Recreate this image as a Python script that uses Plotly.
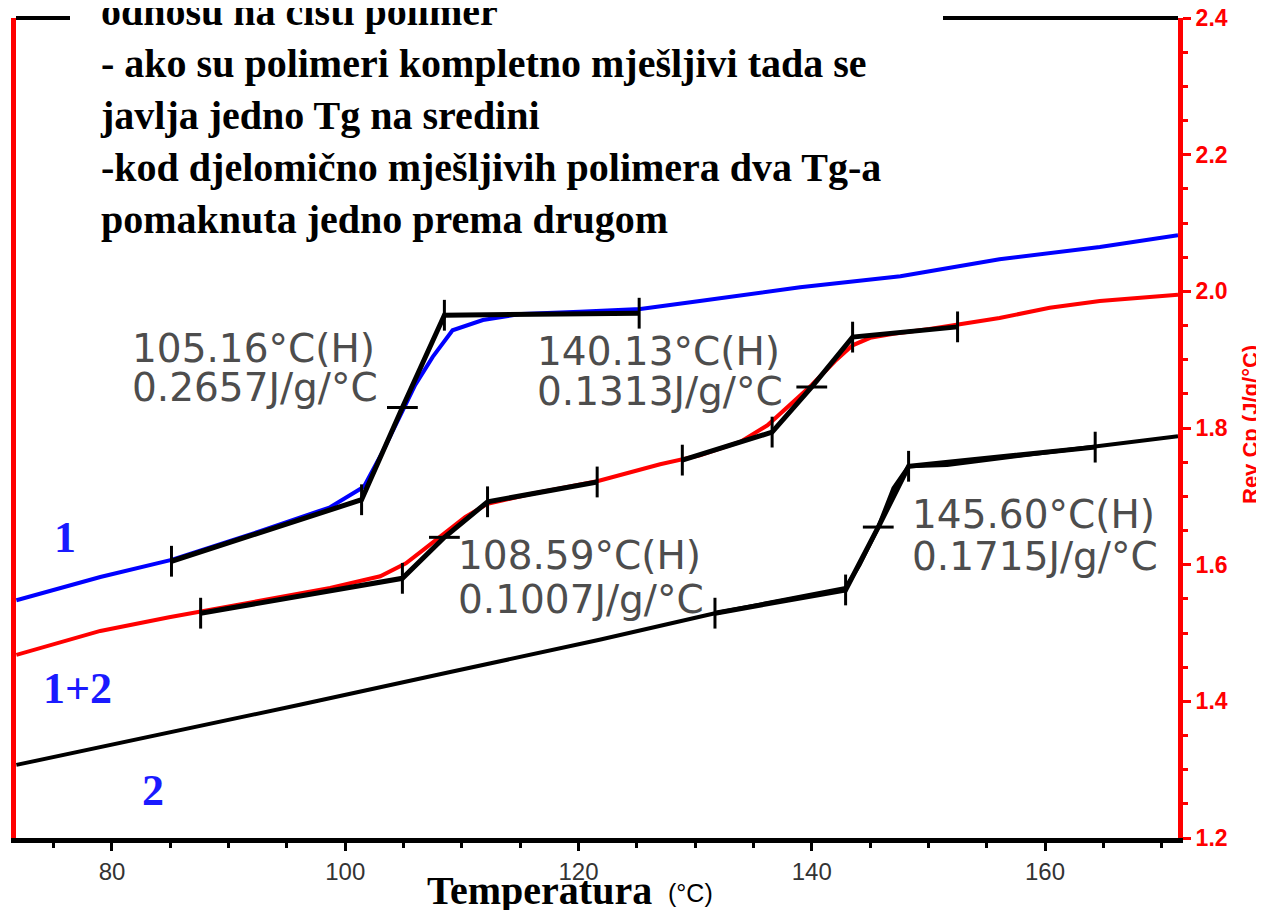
import plotly.graph_objects as go

# ---- data ----
# curve 1 (blue)
t1 = [71.8, 79.0, 85.1, 92.7, 98.7, 101.6, 103.2, 104.7, 106.0, 107.5, 109.2, 111.8,
      115.1, 120.1, 125.3, 130.4, 139.0, 147.6, 156.1, 164.7, 171.4]
cp1 = [1.548, 1.582, 1.607, 1.649, 1.684, 1.714, 1.765, 1.819, 1.863, 1.904, 1.943, 1.958,
       1.967, 1.970, 1.974, 1.986, 2.006, 2.022, 2.047, 2.065, 2.082]
# curve 1+2 (red)
t12 = [71.8, 79.0, 84.9, 92.7, 98.7, 103.0, 105.2, 106.8, 108.5, 110.3, 112.2, 115.8,
       121.6, 127.0, 130.4, 133.9, 136.2, 138.1, 140.0, 142.0, 143.5, 145.0, 147.0,
       150.1, 152.5, 156.1, 160.4, 164.7, 171.4]
cp12 = [1.468, 1.503, 1.523, 1.548, 1.566, 1.583, 1.602, 1.623, 1.645, 1.670, 1.689, 1.703,
        1.722, 1.747, 1.760, 1.780, 1.804, 1.834, 1.863, 1.898, 1.921, 1.932, 1.938,
        1.945, 1.951, 1.961, 1.976, 1.986, 1.995]
# curve 2 (black)
t2 = [71.8, 83.3, 96.1, 109.0, 121.8, 131.7, 139.0, 142.9, 144.1, 145.7, 147.0, 148.3,
      151.6, 154.4, 164.3, 171.4]
cp2 = [1.307, 1.348, 1.395, 1.443, 1.490, 1.529, 1.553, 1.566, 1.600, 1.655, 1.712, 1.744,
       1.746, 1.752, 1.772, 1.788]

# glass-transition analysis constructions (onset / mid / end tangent points)
tg1_t = [85.1, 101.4, 104.9, 108.5, 125.2]
tg1_cp = [1.605, 1.695, 1.830, 1.965, 1.968]
tg12a_t = [87.6, 104.9, 108.5, 112.2, 121.6]
tg12a_cp = [1.529, 1.580, 1.640, 1.692, 1.721]
tg12b_t = [128.9, 136.6, 140.0, 143.5, 152.5]
tg12b_cp = [1.753, 1.794, 1.860, 1.933, 1.948]
tg2_t = [131.7, 142.9, 145.7, 148.3, 164.3]
tg2_cp = [1.529, 1.563, 1.655, 1.744, 1.772]
tick_symbols = ["line-ns", "line-ns", "line-ew", "line-ns", "line-ns"]

labels = [
    ("105.16°C(H)", "0.2657J/g/°C", 130, 348, 388),
    ("140.13°C(H)", "0.1313J/g/°C", 535, 351, 392),
    ("108.59°C(H)", "0.1007J/g/°C", 456, 555, 599),
    ("145.60°C(H)", "0.1715J/g/°C", 910, 514, 557),
]
series_names = [("1", 65, 537), ("1+2", 77, 688), ("2", 153, 790)]
note_lines = [
    "odnosu na čisti polimer",
    "- ako su polimeri kompletno mješljivi tada se",
    "javlja jedno Tg na sredini",
    "-kod djelomično mješljivih polimera dva Tg-a",
    "pomaknuta jedno prema drugom",
]

X0, X1 = 71.77, 171.4
OFF = 8  # page body margin
W, H = 1264 - OFF, 910 - OFF
ML, MR, MT, MB = 16 - OFF, 86, 18 - OFF, 72
PW, PH = W - ML - MR, H - MT - MB


def px(xp):
    return (xp - OFF - ML) / PW


def py(yp):
    return (H + OFF - MB - yp) / PH


fig = go.Figure()
fig.add_trace(go.Scatter(x=t1, y=cp1, mode="lines", line=dict(color="#0000ff", width=4)))
fig.add_trace(go.Scatter(x=t12, y=cp12, mode="lines", line=dict(color="#ff0000", width=4)))
fig.add_trace(go.Scatter(x=t2, y=cp2, mode="lines", line=dict(color="black", width=4)))
for tx, ty in [(tg1_t, tg1_cp), (tg12a_t, tg12a_cp), (tg12b_t, tg12b_cp), (tg2_t, tg2_cp)]:
    fig.add_trace(go.Scatter(
        x=tx, y=ty, mode="lines+markers",
        line=dict(color="black", width=5),
        marker=dict(symbol=tick_symbols, size=22, color="black",
                    line=dict(color="black", width=3)),
    ))

ann = []
for a, b, xl, y1, y2 in labels:
    for txt, yy in [(a, y1), (b, y2)]:
        ann.append(dict(text=txt, xref="paper", yref="paper", x=px(xl), y=py(yy),
                        xanchor="left", yanchor="middle", showarrow=False,
                        font=dict(family="DejaVu Sans", size=39, color="#4d4d4d")))
for txt, xc, yc in series_names:
    ann.append(dict(text=txt, xref="paper", yref="paper", x=px(xc), y=py(yc),
                    xanchor="center", yanchor="middle", showarrow=False,
                    font=dict(family="Liberation Serif", size=44, color="#1a1aff", weight="bold")))
ann.append(dict(text="<br>".join(note_lines), xref="paper", yref="paper",
                x=px(98), y=py(-13), xanchor="left", yanchor="top", align="left",
                showarrow=False,
                font=dict(family="Liberation Serif", size=40, color="black", weight="bold")))
ann.append(dict(text="Temperatura", xref="paper", yref="paper", x=px(425), y=py(890),
                xanchor="left", yanchor="middle", showarrow=False,
                font=dict(family="Liberation Serif", size=40, color="black", weight="bold")))
ann.append(dict(text="(°C)", xref="paper", yref="paper", x=px(666), y=py(893),
                xanchor="left", yanchor="middle", showarrow=False,
                font=dict(family="Liberation Sans", size=25, color="black")))
ann.append(dict(text="Rev Cp (J/g/°C)", xref="paper", yref="paper", x=px(1250), y=py(425),
                xanchor="center", yanchor="middle", textangle=-90, showarrow=False,
                font=dict(family="Liberation Sans", size=22, color="#ff0000", weight="bold")))

shapes = [
    dict(type="line", xref="paper", yref="paper", x0=0, x1=px(70), y0=1, y1=1,
         line=dict(color="black", width=4)),
    dict(type="line", xref="paper", yref="paper", x0=px(943), x1=1, y0=1, y1=1,
         line=dict(color="black", width=4)),
]

fig.update_layout(
    width=W, height=H, margin=dict(l=ML, r=MR, t=MT, b=MB, autoexpand=False),
    paper_bgcolor="white", plot_bgcolor="white", showlegend=False,
    annotations=ann, shapes=shapes,
    xaxis=dict(range=[X0, X1], tickvals=[80, 100, 120, 140, 160], showgrid=False,
               zeroline=False, showline=True, linecolor="black", linewidth=5,
               ticks="outside", ticklen=8, tickwidth=3, tickcolor="black",
               minor=dict(dtick=5, tick0=0, ticks="outside", ticklen=5, tickwidth=3,
                          tickcolor="black", showgrid=False),
               tickfont=dict(family="Liberation Sans", size=24, color="#333333")),
    yaxis=dict(range=[1.2, 2.4], side="right", dtick=0.2, tick0=1.2, tickformat=".1f",
               showgrid=False, zeroline=False, showline=True, mirror=True,
               linecolor="#ff0000", linewidth=5, ticklabeloverflow="allow",
               ticks="outside", ticklen=8, tickwidth=3, tickcolor="#ff0000",
               minor=dict(dtick=0.05, tick0=1.2, ticks="outside", ticklen=5, tickwidth=3,
                          tickcolor="#ff0000", showgrid=False),
               tickfont=dict(family="Liberation Sans", size=23, color="#ff0000", weight="bold")),
)

fig.write_html("out.html")
